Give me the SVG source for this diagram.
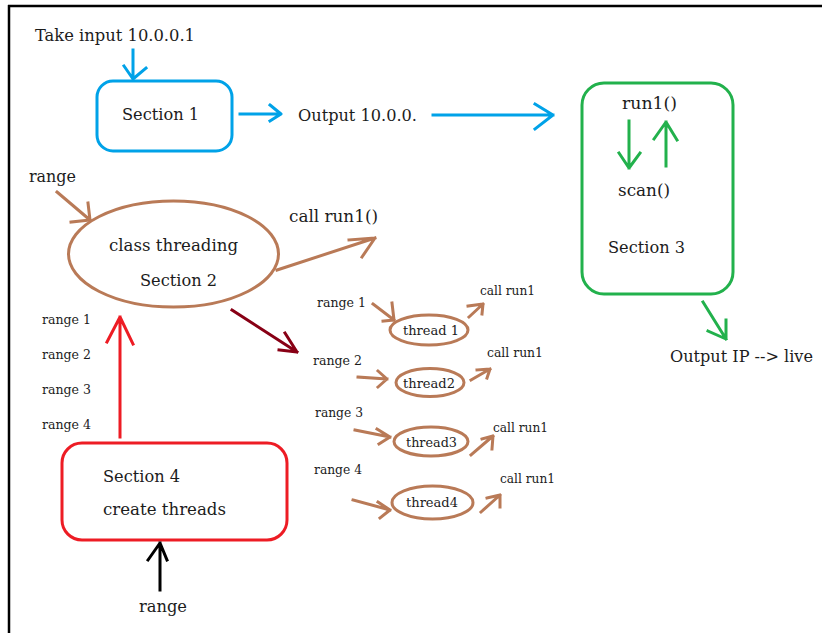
<svg xmlns="http://www.w3.org/2000/svg" width="822" height="633" viewBox="0 0 822 633">
  <style>
    text { font-family: "DejaVu Serif", "Liberation Serif", serif; fill: #1c1c1c; }
    .lg { font-size: 16px; }
    .sm { font-size: 12.5px; }
    .ln { fill: none; stroke-width: 3; stroke-linecap: square; stroke-linejoin: round; }
    .blue { stroke: #00a2e8; }
    .green { stroke: #22b14c; }
    .brown { stroke: #b97a57; }
    .red { stroke: #ed1c24; }
    .maroon { stroke: #880015; }
    .black { stroke: #000000; }
  </style>

  <rect x="0" y="0" width="822" height="633" fill="#ffffff"/>

  <!-- page frame (top and left edges only) -->
  <g id="frame" fill="none" stroke="#000000" stroke-width="2.5">
    <line x1="8" y1="6" x2="822" y2="6"/>
    <line x1="9" y1="5" x2="9" y2="633"/>
  </g>

  <!-- free-standing labels -->
  <g id="labels">
    <text class="lg" x="35" y="41" textLength="160" lengthAdjust="spacingAndGlyphs">Take input 10.0.0.1</text>
    <text class="lg" x="298" y="121" textLength="119" lengthAdjust="spacingAndGlyphs">Output 10.0.0.</text>
    <text class="lg" x="670" y="362" textLength="143" lengthAdjust="spacingAndGlyphs">Output IP --&gt; live</text>
    <text class="lg" x="29" y="182" textLength="47" lengthAdjust="spacingAndGlyphs">range</text>
    <text class="lg" x="289" y="222" textLength="89" lengthAdjust="spacingAndGlyphs">call run1()</text>
    <text class="lg" x="139" y="612" textLength="48" lengthAdjust="spacingAndGlyphs">range</text>
    <text class="sm" x="42" y="324" textLength="49" lengthAdjust="spacingAndGlyphs">range 1</text>
    <text class="sm" x="42" y="359" textLength="49" lengthAdjust="spacingAndGlyphs">range 2</text>
    <text class="sm" x="42" y="394" textLength="49" lengthAdjust="spacingAndGlyphs">range 3</text>
    <text class="sm" x="42" y="429" textLength="49" lengthAdjust="spacingAndGlyphs">range 4</text>
    <text class="sm" x="317" y="307" textLength="49" lengthAdjust="spacingAndGlyphs">range 1</text>
    <text class="sm" x="313" y="365" textLength="49" lengthAdjust="spacingAndGlyphs">range 2</text>
    <text class="sm" x="315" y="417" textLength="48" lengthAdjust="spacingAndGlyphs">range 3</text>
    <text class="sm" x="314" y="474" textLength="48" lengthAdjust="spacingAndGlyphs">range 4</text>
    <text class="sm" x="480" y="295" textLength="55" lengthAdjust="spacingAndGlyphs">call run1</text>
    <text class="sm" x="487" y="357" textLength="56" lengthAdjust="spacingAndGlyphs">call run1</text>
    <text class="sm" x="493" y="432" textLength="55" lengthAdjust="spacingAndGlyphs">call run1</text>
    <text class="sm" x="500" y="483" textLength="55" lengthAdjust="spacingAndGlyphs">call run1</text>
  </g>

  <!-- Section 1 -->
  <g id="section1">
    <rect class="ln blue" x="97" y="81" width="135" height="70" rx="16" ry="16"/>
    <text class="lg" x="122" y="120" textLength="77" lengthAdjust="spacingAndGlyphs">Section 1</text>
  </g>

  <!-- Section 3 -->
  <g id="section3">
    <rect class="ln green" x="582" y="83" width="151" height="211" rx="22" ry="22"/>
    <text class="lg" x="622" y="109" textLength="55" lengthAdjust="spacingAndGlyphs">run1()</text>
    <text class="lg" x="618" y="196" textLength="52" lengthAdjust="spacingAndGlyphs">scan()</text>
    <text class="lg" x="608" y="253" textLength="77" lengthAdjust="spacingAndGlyphs">Section 3</text>
    <path class="ln green" d="M629 121 V168 M619 153 L629 168 L640 153"/>
    <path class="ln green" d="M666 166 V122 M654 139 L666 122 L677 140"/>
  </g>

  <!-- Section 2 -->
  <g id="section2">
    <ellipse class="ln brown" cx="173.5" cy="254" rx="105" ry="53"/>
    <text class="lg" x="109" y="251" textLength="129" lengthAdjust="spacingAndGlyphs">class threading</text>
    <text class="lg" x="140" y="286" textLength="77" lengthAdjust="spacingAndGlyphs">Section 2</text>
  </g>

  <!-- Section 4 -->
  <g id="section4">
    <rect class="ln red" x="62" y="443" width="225" height="97" rx="20" ry="20"/>
    <text class="lg" x="103" y="482" textLength="77" lengthAdjust="spacingAndGlyphs">Section 4</text>
    <text class="lg" x="103" y="515" textLength="123" lengthAdjust="spacingAndGlyphs">create threads</text>
  </g>

  <!-- worker threads -->
  <g id="thread1">
    <ellipse class="ln brown" cx="429" cy="330" rx="39" ry="15"/>
    <text class="sm" x="403" y="335" textLength="56" lengthAdjust="spacingAndGlyphs">thread 1</text>
  </g>
  <g id="thread2">
    <ellipse class="ln brown" cx="430" cy="382.5" rx="34" ry="14"/>
    <text class="sm" x="403" y="388" textLength="52" lengthAdjust="spacingAndGlyphs">thread2</text>
  </g>
  <g id="thread3">
    <ellipse class="ln brown" cx="431" cy="441.5" rx="37" ry="14.5"/>
    <text class="sm" x="406" y="447" textLength="51" lengthAdjust="spacingAndGlyphs">thread3</text>
  </g>
  <g id="thread4">
    <ellipse class="ln brown" cx="432.5" cy="502.5" rx="40.5" ry="16.5"/>
    <text class="sm" x="406" y="507" textLength="52" lengthAdjust="spacingAndGlyphs">thread4</text>
  </g>

  <!-- connectors -->
  <g id="connectors">
    <!-- input into Section 1 -->
    <path class="ln blue" d="M133 50 V79 M124 66 L133 79 L146 68"/>
    <!-- Section 1 to output label -->
    <path class="ln blue" d="M240 114 H280 M270 105 L281 114 L270 121"/>
    <!-- output label to Section 3 -->
    <path class="ln blue" d="M433 115 H553 M535 104 L553 115 L535 129"/>
    <!-- Section 3 result -->
    <path class="ln green" d="M703 302 L726 339 M708 331 L726 339 V320"/>
    <!-- range into Section 2 -->
    <path class="ln brown" d="M57 192 L90 220 M71 222 L90 220 L88 203"/>
    <!-- Section 2 calls run1() -->
    <path class="ln brown" d="M277 270 L375 238 M349 240 L375 238 L362 257"/>
    <!-- Section 2 spawns threads -->
    <path class="ln maroon" d="M232 310 L297 352 M285 333 L297 352 L279 350"/>
    <!-- Section 4 up to Section 2 -->
    <path class="ln red" d="M120 437 V317 M107 342 L120 317 L133 344"/>
    <!-- range into Section 4 -->
    <path class="ln black" d="M160 590 V543 M148 560 L160 543 L167 560"/>

    <!-- thread inputs -->
    <path class="ln brown" d="M373 304 L394 320 M392 303 L394 320 L383 321"/>
    <path class="ln brown" d="M358 377 L387 379 M378 371 L387 379 L378 387"/>
    <path class="ln brown" d="M355 430 L390 437 M377 429 L390 437 L379 444"/>
    <path class="ln brown" d="M353 500 L390 510 M378 502 L390 510 L380 518"/>

    <!-- thread outputs -->
    <path class="ln brown" d="M469 317 L483 304 M468 306 L483 304 L482 314"/>
    <path class="ln brown" d="M471 380 L490 369 M477 370 L490 369 L487 378"/>
    <path class="ln brown" d="M471 455 L493 436 M482 439 L493 436 L492 449"/>
    <path class="ln brown" d="M481 512 L500 495 M487 498 L500 495 L500 507"/>
  </g>
</svg>
